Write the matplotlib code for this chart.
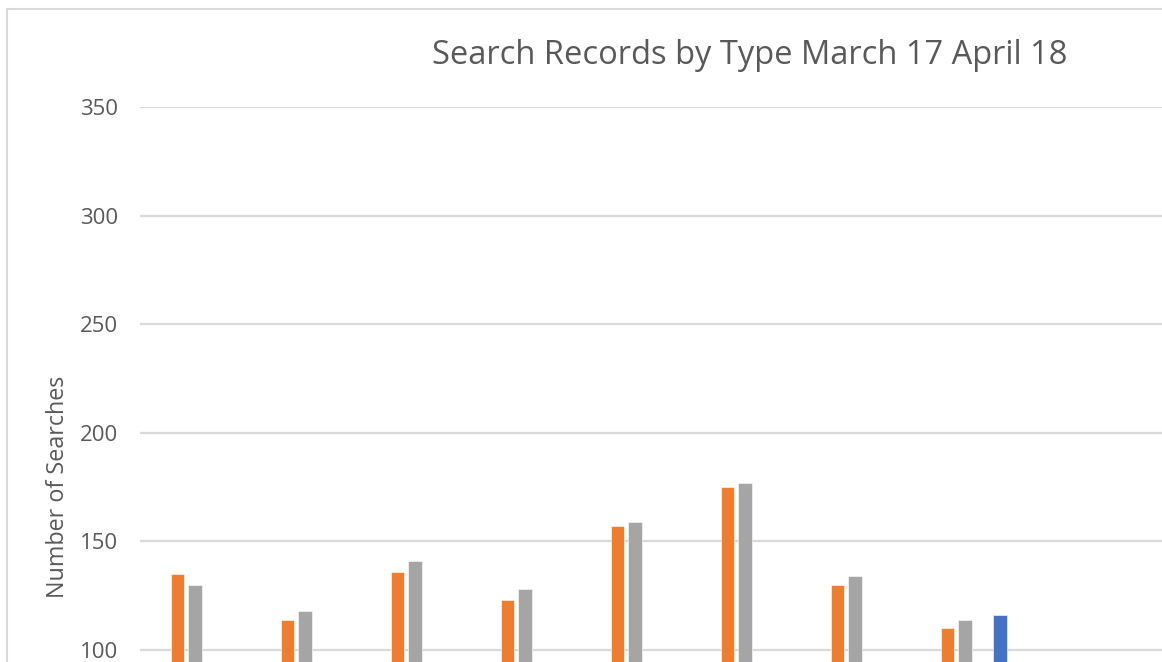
import matplotlib
matplotlib.use("Agg")
import matplotlib.pyplot as plt
import numpy as np

# Data (12 monthly categories; only the first 8 have bars visible in the chart)
categories = ["Mar 17", "Apr 17", "May 17", "Jun 17", "Jul 17", "Aug 17",
              "Sep 17", "Oct 17", "Nov 17", "Dec 17", "Jan 18", "Feb 18"]
series_names = ["Series A", "Series B", "Series C", "Series D", "Series E"]
series_a = [None] * 12
series_b = [135, 114, 136, 123, 157, 175, 130, 110, None, None, None, None]
series_c = [130, 118, 141, 128, 159, 177, 134, 114, None, None, None, None]
series_d = [None] * 12
series_e = [None, None, None, None, None, None, None, 116, None, None, None, None]
series_colors = ["#4472C4", "#ED7D31", "#A5A5A5", "#FFC000", "#4472C4"]
yticks = [100, 150, 200, 250, 300, 350]
gridlines = [0, 50, 100, 150, 200, 250, 300, 350]

W, H = 1162, 662
fig = plt.figure(figsize=(W / 100, H / 100), dpi=100)
fig.patch.set_facecolor("white")

# chart border (cropped chart area)
fig.add_artist(plt.Rectangle((6.5 / W, -0.5), 2, 1.5 - 9 / H, transform=fig.transFigure,
                             fill=False, edgecolor="#D9D9D9", linewidth=1.5))

# plot area: left 140px, top 107px (350), 0 at ~865px; 110 px per category
px_per_unit = (650 - 107) / 250.0
y0_px = 650 + 100 * px_per_unit
left, top = 140, 107
width = 110 * len(categories)
height = y0_px - top
ax = fig.add_axes([left / W, (H - y0_px) / H, width / W, height / H])
ax.set_facecolor("white")

all_series = [series_a, series_b, series_c, series_d, series_e]
n = len(all_series)
slot = 17.5 / 110
bar_w = 13.5 / 110
x = np.arange(len(categories))
for i, (vals, col) in enumerate(zip(all_series, series_colors)):
    v = np.array([np.nan if a is None else a for a in vals], dtype=float)
    ax.bar(x + (i - (n - 1) / 2) * slot, v, width=bar_w, color=col,
           edgecolor="white", linewidth=0.4, zorder=3)

ax.set_xlim(-0.5, len(categories) - 0.5)
ax.set_ylim(0, 350)
for g in gridlines:
    ax.axhline(g, color="#D9D9D9", linewidth=1.6, zorder=0)
ax.set_yticks(yticks)
ax.set_xticks([])  # category labels lie below the visible (cropped) area
for s in ax.spines.values():
    s.set_visible(False)
ax.tick_params(axis="both", length=0, labelsize=16, labelcolor="#595959", pad=16)
for lbl in ax.get_yticklabels():
    lbl.set_fontfamily("Open Sans")

ax.set_ylabel("Number of Searches", fontsize=16.8, color="#595959",
              fontfamily="Open Sans")
ax.yaxis.set_label_coords(-(140 - 70) / width, 0.5)

fig.text(749.5 / W, 1 - 55 / H, "Search Records by Type March 17 April 18",
         ha="center", va="center", fontsize=23.5, color="#595959",
         fontfamily="Open Sans")

fig.savefig("out.png", dpi=100, facecolor="white")
